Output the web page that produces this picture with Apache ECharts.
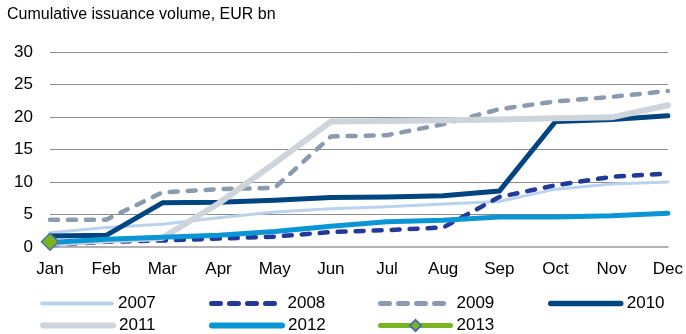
<!DOCTYPE html>
<html>
<head>
<meta charset="utf-8">
<script src="https://cdn.jsdelivr.net/npm/echarts@6/dist/echarts.min.js"></script>
<style>
  html, body { margin: 0; padding: 0; background: #fff; }
  #chart { width: 686px; height: 334px; }
</style>
</head>
<body>
<div id="chart"></div>
<script>
// Months on the category axis
var months = ['Jan', 'Feb', 'Mar', 'Apr', 'May', 'Jun', 'Jul', 'Aug', 'Sep', 'Oct', 'Nov', 'Dec'];

// Cumulative issuance volume by year, EUR bn
var v2007 = [2.2, 3.0, 3.5, 4.5, 5.4, 5.9, 6.2, 6.6, 7.0, 8.9, 9.7, 10.0];
var v2008 = [0.3, 0.8, 1.0, 1.3, 1.6, 2.3, 2.6, 3.0, 7.7, 9.5, 10.8, 11.3];
var v2009 = [4.2, 4.2, 8.4, 8.9, 9.1, 17.0, 17.2, 18.9, 21.2, 22.4, 23.1, 24.0];
var v2010 = [1.7, 1.8, 6.8, 6.9, 7.2, 7.6, 7.7, 7.9, 8.6, 19.3, 19.6, 20.2];
var v2011 = [0.5, 1.0, 1.4, 6.7, 12.9, 19.3, 19.4, 19.5, 19.6, 19.8, 19.95, 21.8];
var v2012 = [0.7, 1.2, 1.5, 1.8, 2.4, 3.2, 3.9, 4.1, 4.6, 4.6, 4.8, 5.2];
var v2013 = [0.8];

var yTicks = { min: 0, max: 30, interval: 5 };

var FONT = '"Liberation Sans", Arial, sans-serif';

function lineSeries(name, data, color, width, dash, extra) {
  var s = {
    name: name,
    type: 'line',
    data: data,
    symbol: 'none',
    smooth: false,
    lineStyle: { color: color, width: width, type: dash || 'solid', cap: 'round', join: 'round' },
    itemStyle: { color: color },
    emphasis: { disabled: true },
    animation: false
  };
  if (extra) { for (var k in extra) s[k] = extra[k]; }
  return s;
}

var series = [
  lineSeries('2007', v2007, '#b9d3ef', 3),
  lineSeries('2008', v2008, '#22399a', 4.5, [8, 10]),
  lineSeries('2009', v2009, '#8a9bb1', 4.5, [8, 10]),
  lineSeries('2010', v2010, '#00457f', 5),
  lineSeries('2011', v2011, '#cdd4dc', 6),
  lineSeries('2012', v2012, '#0a96d4', 5),
  lineSeries('2013', v2013, '#78b51e', 5, null, {
    symbol: 'diamond',
    symbolSize: 17,
    showSymbol: true,
    itemStyle: { color: '#78b51e', borderColor: '#4a6fa8', borderWidth: 1.5 }
  })
];

// One legend block per entry so every item sits on its own column/row slot
var legendSlots = [
  { name: '2007', left: 40, top: 295, marker: false, width: 4, dash: 'solid' },
  { name: '2008', left: 209, top: 295, marker: false, width: 5, dash: [9, 9] },
  { name: '2009', left: 378, top: 295, marker: false, width: 5, dash: [9, 9] },
  { name: '2010', left: 548, top: 295, marker: false, width: 5.5, dash: 'solid' },
  { name: '2011', left: 40, top: 317, marker: false, width: 6, dash: 'solid' },
  { name: '2012', left: 209, top: 317, marker: false, width: 6, dash: 'solid' },
  { name: '2013', left: 378, top: 317, marker: true, width: 5, dash: 'solid' }
];
var legends = legendSlots.map(function (s) {
  return {
    data: [s.name],
    left: s.left,
    top: s.top,
    orient: 'horizontal',
    itemWidth: 70,
    itemHeight: 14,
    itemGap: 0,
    selectedMode: false,
    // series without markers show only their line in the key
    itemStyle: s.marker ? {} : { opacity: 0 },
    lineStyle: { width: s.width, type: s.dash, cap: 'round' },
    textStyle: { fontFamily: FONT, fontSize: 17, color: '#000', padding: [0, 0, 0, 1] },
    padding: 0
  };
});

var chart = echarts.init(document.getElementById('chart'), null, { renderer: 'canvas' });
chart.setOption({
  backgroundColor: '#fff',
  animation: false,
  title: {
    text: 'Cumulative issuance volume, EUR bn',
    left: 7,
    top: 7,
    padding: 0,
    textStyle: { fontFamily: FONT, fontSize: 16, fontWeight: 'normal', color: '#000' }
  },
  legend: legends,
  grid: { left: 50, right: 18, top: 52, bottom: 87, containLabel: false },
  xAxis: {
    type: 'category',
    data: months,
    boundaryGap: false,
    axisLine: { show: true, lineStyle: { color: '#b3b3b3', width: 2 } },
    axisTick: { show: false },
    axisLabel: { fontFamily: FONT, fontSize: 17, color: '#000', margin: 14 },
    splitLine: { show: false }
  },
  yAxis: {
    type: 'value',
    min: yTicks.min,
    max: yTicks.max,
    interval: yTicks.interval,
    axisLine: { show: false },
    axisTick: { show: false },
    axisLabel: { fontFamily: FONT, fontSize: 17, color: '#000', margin: 17 },
    splitLine: { show: true, lineStyle: { color: '#8c8c8c', width: 1 } }
  },
  series: series
});
</script>
</body>
</html>
